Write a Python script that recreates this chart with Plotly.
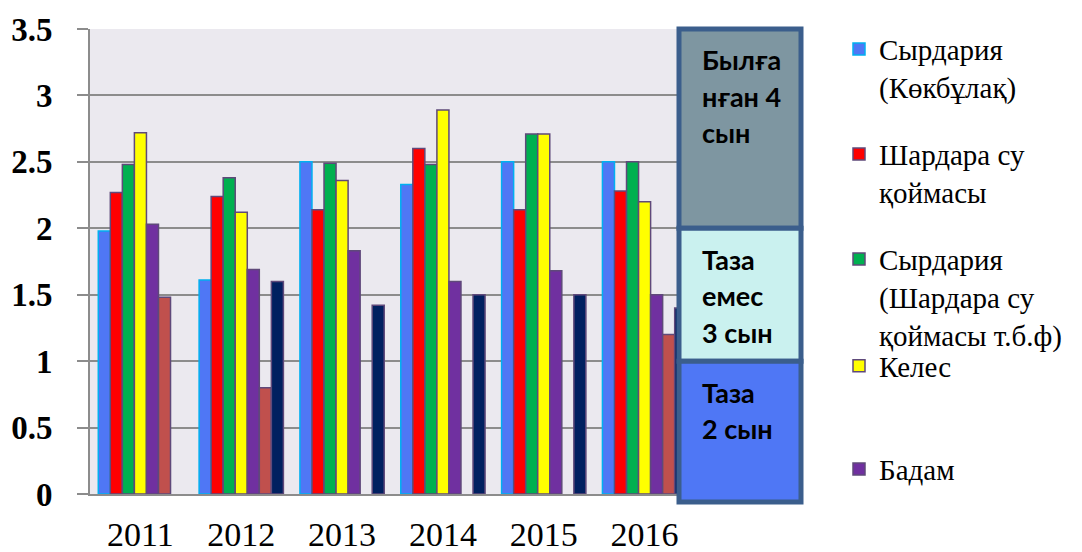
import plotly.graph_objects as go

years = ["2011", "2012", "2013", "2014", "2015", "2016"]

syr_kokbulak = [1.98, 1.61, 2.50, 2.33, 2.50, 2.50]
shardara_res = [2.27, 2.24, 2.14, 2.60, 2.14, 2.28]
syr_shardara = [2.48, 2.38, 2.49, 2.48, 2.71, 2.50]
keles = [2.72, 2.12, 2.36, 2.89, 2.71, 2.20]
badam = [2.03, 1.69, 1.83, 1.60, 1.68, 1.50]
series6 = [1.48, 0.80, None, None, None, 1.20]
series7 = [None, 1.60, 1.42, 1.50, 1.50, 1.40]

names = [
    "Сырдария<br>(Көкбұлақ)",
    "Шардара су<br>қоймасы",
    "Сырдария<br>(Шардара су<br>қоймасы т.б.ф)",
    "Келес",
    "Бадам",
    "Series 6",
    "Series 7",
]
values = [syr_kokbulak, shardara_res, syr_shardara, keles, badam, series6, series7]
colors = ["#4F77F5", "#FF0000", "#00B050", "#FFFF00", "#7030A0", "#C0504D", "#002060"]
borders = ["#00B0F0", "#5F497A", "#5F497A", "#5F497A", "#5F497A", "#5F497A", "#5F497A"]

# water quality class bands (value thresholds) and their labels
band_edges = [3.5, 2.0, 1.0, 0.0]
band_colors = ["#7E96A1", "#CAF1EF", "#4F77F5"]
band_labels = [["Былға", "нған 4", "сын"], ["Таза", "емес", "3 сын"], ["Таза", "2 сын"]]

SERIF = "Liberation Serif"

YMAX = 3.5
OFF = 8  # page body margin
W, H = 1082 - OFF, 552 - OFF
ML, MT = 90 - OFF, 29 - OFF
PR, PB = 695 - OFF, 494 - OFF
MR, MB = W - PR, H - PB
PW = PR - ML
PH = PB - MT

fig = go.Figure()
legend_ids = ["legend", "legend2", "legend3", "legend4", "legend5"]
for i, (n, v, c, b) in enumerate(zip(names, values, colors, borders)):
    kw = dict(legend=legend_ids[i]) if i < 5 else {}
    fig.add_trace(go.Bar(
        x=years, y=v, name=n,
        marker=dict(color=c, line=dict(color=b, width=1.5)),
        showlegend=i < 5, **kw,
    ))

# legends placed individually (page y of first text line centre)
legend_centres = [51.7, 156.7, 261.7, 368.5, 471.7]
leg_font = dict(family=SERIF, size=29, color="black")
legend_layout = {}
for lid, c in zip(legend_ids, legend_centres):
    top = c - OFF - 28
    legend_layout[lid] = dict(
        xref="container", yref="container",
        x=(839 - OFF) / W, y=1 - top / H, xanchor="left", yanchor="top",
        font=leg_font, bgcolor="rgba(0,0,0,0)", borderwidth=0,
        valign="top", itemclick=False,
    )


def px_x(p):
    return (p - OFF - ML) / PW


def val_y(v):
    return v / YMAX


shapes = []
box_x0, box_x1 = px_x(679), px_x(801)
bottom_y = -8 / PH
for k in range(3):
    y_top = val_y(band_edges[k])
    y_bot = val_y(band_edges[k + 1]) if k < 2 else bottom_y
    shapes.append(dict(
        type="rect", xref="paper", yref="paper",
        x0=box_x0, x1=box_x1, y0=y_bot, y1=y_top,
        fillcolor=band_colors[k], line=dict(color="#3B5E8C", width=5),
        layer="above",
    ))

annotations = []
for k, lines in enumerate(band_labels):
    y_top_px = (1 - val_y(band_edges[k])) * PH
    for j, t in enumerate(lines):
        ypx = y_top_px + 31 + j * 36.5
        annotations.append(dict(
            xref="paper", yref="paper", x=px_x(700), y=1 - ypx / PH,
            xanchor="left", yanchor="middle", text=t, showarrow=False,
            font=dict(family="Lato", size=27, color="black", weight="bold"),
        ))

fig.update_layout(
    width=W, height=H,
    font=dict(family=SERIF, color="black"),
    margin=dict(l=ML, r=MR, t=MT, b=MB, autoexpand=False),
    paper_bgcolor="white", plot_bgcolor="#EBE9EF",
    barmode="group", bargap=0.164, bargroupgap=0,
    shapes=shapes, annotations=annotations,
    xaxis=dict(
        automargin=False,
        showline=True, linecolor="#8C8C8C", linewidth=2,
        ticks="", tickfont=dict(family=SERIF, size=34, color="black"),
        ticklabelstandoff=9, showgrid=False,
    ),
    yaxis=dict(
        automargin=False,
        range=[0, YMAX], dtick=0.5, tick0=0,
        showline=True, linecolor="#8C8C8C", linewidth=2,
        ticks="outside", ticklen=11, tickcolor="#8C8C8C", tickwidth=2,
        showgrid=True, gridcolor="#8C8C8C", gridwidth=1.5, zeroline=False,
        tickfont=dict(family=SERIF, size=33, color="black", weight="bold"),
        ticklabelstandoff=18,
    ),
    **legend_layout,
)

fig.write_html("out.html")
